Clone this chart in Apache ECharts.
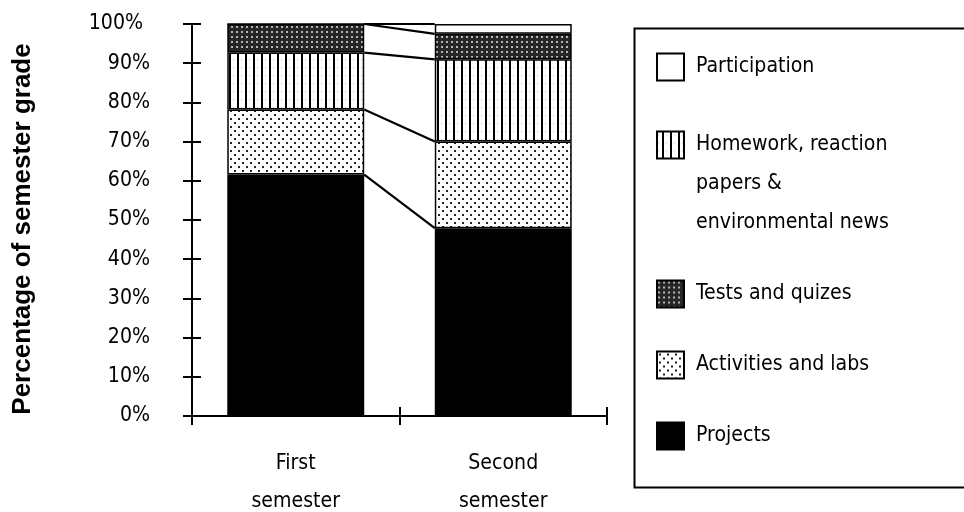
<!DOCTYPE html>
<html>
<head>
<meta charset="utf-8">
<script src="https://cdn.jsdelivr.net/npm/echarts@6/dist/echarts.min.js"></script>
<style>
html,body{margin:0;padding:0;background:#fff;}
#chart{width:964px;height:512px;}
</style>
</head>
<body>
<div id="chart"></div>
<script>
// ---- data ----
var categories = ['First\nsemester', 'Second\nsemester'];
var projects = [61.6, 47.9];
var activities = [16.6, 22.1];
var homework = [14.5, 21.0];
var tests = [7.3, 6.5];
var participation = [0, 2.5];
var seriesNames = ['Projects', 'Activities and labs', 'Homework, reaction papers & environmental news', 'Tests and quizes', 'Participation'];
var yTicks = [0, 100, 10];

// ---- pick an installed narrow font and size it to the reference text width ----
var mctx = document.createElement('canvas').getContext('2d');
function w(font, txt) { mctx.font = font; return mctx.measureText(txt).width; }
function installed(f) {
  var t = 'Activities and labs 0123456789%';
  return w('40px "' + f + '", monospace', t) !== w('40px monospace', t) ||
         w('40px "' + f + '", serif', t) !== w('40px serif', t);
}
var candidates = ['Liberation Sans Narrow', 'Arial Narrow', 'Noto Sans Condensed', 'Noto Sans SemiCondensed', 'DejaVu Sans Condensed', 'Liberation Sans'];
var FAM = 'Liberation Sans';
for (var i = 0; i < candidates.length; i++) { if (installed(candidates[i])) { FAM = candidates[i]; break; } }
var FONT = '"' + FAM + '", sans-serif';
var FS = Math.round(26 * 173 / w('26px ' + FONT, 'Activities and labs') * 10) / 10;
FS = Math.max(16, Math.min(28, FS));

function makePattern(pw, ph, draw) {
  var c = document.createElement('canvas');
  c.width = pw; c.height = ph;
  var ctx = c.getContext('2d');
  draw(ctx);
  return { image: c, repeat: 'repeat' };
}
var dotPattern = makePattern(8, 8, function (ctx) {
  ctx.fillStyle = '#fff'; ctx.fillRect(0, 0, 8, 8);
  ctx.fillStyle = '#222';
  ctx.fillRect(2, 2, 2, 2);
  ctx.fillRect(6, 6, 2, 2);
});
var stripePattern = makePattern(8, 8, function (ctx) {
  ctx.fillStyle = '#fff'; ctx.fillRect(0, 0, 8, 8);
  ctx.fillStyle = '#000'; ctx.fillRect(5, 0, 2, 8);
  ctx.fillStyle = '#bbb'; ctx.fillRect(1, 3, 1, 1);
});
var checkPattern = makePattern(5, 5, function (ctx) {
  ctx.fillStyle = '#262626'; ctx.fillRect(0, 0, 5, 5);
  ctx.fillStyle = '#b5b5b5'; ctx.fillRect(1, 1, 2, 2);
});

var fills = ['#000', dotPattern, stripePattern, checkPattern, '#fff'];
var values = [projects, activities, homework, tests, participation];

var series = [];
for (var i = 0; i < values.length; i++) {
  series.push({
    name: seriesNames[i],
    type: 'bar',
    stack: 'total',
    barWidth: '66%',
    data: values[i],
    itemStyle: { color: fills[i], borderColor: '#000', borderWidth: 1.5 },
    emphasis: { disabled: true },
    animation: false
  });
}
// series lines (connect cumulative tops between the two bars)
var cum = [0, 0];
var lineData = [];
for (var i = 0; i < values.length; i++) {
  cum[0] += values[i][0]; cum[1] += values[i][1];
  lineData.push([0, cum[0], cum[1]]);
}
series.push({
  name: 'seriesLines',
  type: 'custom',
  z: 5,
  silent: true,
  animation: false,
  encode: { x: 0, y: [1, 2] },
  data: lineData,
  renderItem: function (params, api) {
    var p1 = api.coord([0, api.value(1)]);
    var p2 = api.coord([1, api.value(2)]);
    var half = api.size([1, 0])[0] * 0.33;
    return {
      type: 'line',
      shape: { x1: p1[0] + half, y1: p1[1], x2: p2[0] - half, y2: p2[1] },
      style: { stroke: '#000', lineWidth: 2.2 }
    };
  }
});

var legendText = { fontFamily: FONT, fontSize: FS, color: '#000', lineHeight: 38, padding: [0, 0, 0, 7] };
var legendBase = {
  orient: 'vertical', left: 656, padding: 0, itemWidth: 27, itemHeight: 27,
  icon: 'rect', selectedMode: false, textStyle: legendText
};
function L(extra) { var o = {}; for (var k in legendBase) o[k] = legendBase[k]; for (var k in extra) o[k] = extra[k]; return o; }

var option = {
  backgroundColor: '#fff',
  animation: false,
  grid: { left: 192, right: 357, top: 24, bottom: 96, containLabel: false, outerBoundsMode: 'none' },
  xAxis: [{
    type: 'category', data: categories,
    axisLine: { lineStyle: { color: '#000', width: 2 } },
    axisTick: { show: true, length: 9, lineStyle: { color: '#000', width: 2 } },
    axisLabel: { color: '#000', fontFamily: FONT, fontSize: FS, lineHeight: 38, margin: 29 }
  }, {
    type: 'category', data: categories, position: 'bottom',
    axisLine: { show: false },
    axisTick: { show: true, inside: true, length: 9, lineStyle: { color: '#000', width: 2 } },
    axisLabel: { show: false }
  }],
  yAxis: [{
    type: 'value', min: yTicks[0], max: yTicks[1], interval: yTicks[2],
    name: 'Percentage of semester grade', nameLocation: 'middle', nameGap: 156, nameRotate: 90,
    nameTextStyle: { fontFamily: "'Liberation Sans', Arial, sans-serif", fontWeight: 'bold', fontSize: 26, color: '#000', padding: [0, 18, 0, 0] },
    axisLine: { show: true, lineStyle: { color: '#000', width: 2 } },
    axisTick: { show: true, length: 9, lineStyle: { color: '#000', width: 2 } },
    splitLine: { show: false },
    axisLabel: {
      color: '#000', fontFamily: FONT, fontSize: FS, margin: 42,
      formatter: function (v) { return v === 100 ? '{h|' + v + '%}' : v + '%'; },
      rich: { h: { fontFamily: FONT, fontSize: FS, color: '#000', padding: [0, 7, 0, 0] } }
    }
  }, {
    type: 'value', min: yTicks[0], max: yTicks[1], interval: yTicks[2], position: 'left',
    axisLine: { show: false },
    axisTick: { show: true, inside: true, length: 9, lineStyle: { color: '#000', width: 2 } },
    splitLine: { show: false },
    axisLabel: { show: false }
  }],
  legend: [
    L({ top: 48, data: ['Participation'] }),
    L({
      top: 76, data: [seriesNames[2]],
      formatter: function () { return '{p| }\n{t|Homework, reaction}\n{t|papers &}\n{t|environmental news}'; },
      textStyle: {
        fontFamily: FONT, fontSize: FS, color: '#000', padding: [0, 0, 0, 7],
        rich: {
          p: { fontFamily: FONT, fontSize: FS, lineHeight: 78 },
          t: { fontFamily: FONT, fontSize: FS, color: '#000', lineHeight: 39 }
        }
      }
    }),
    L({ top: 275, itemGap: 33, data: ['Tests and quizes', 'Activities and labs', 'Projects'] })
  ],
  graphic: [{
    type: 'rect', left: 632, top: 26, silent: true,
    shape: { width: 345, height: 459 },
    style: { fill: 'none', stroke: '#000', lineWidth: 2 }
  }],
  series: series
};

var chart = echarts.init(document.getElementById('chart'), null, { renderer: 'canvas' });
chart.setOption(option);
</script>
</body>
</html>
